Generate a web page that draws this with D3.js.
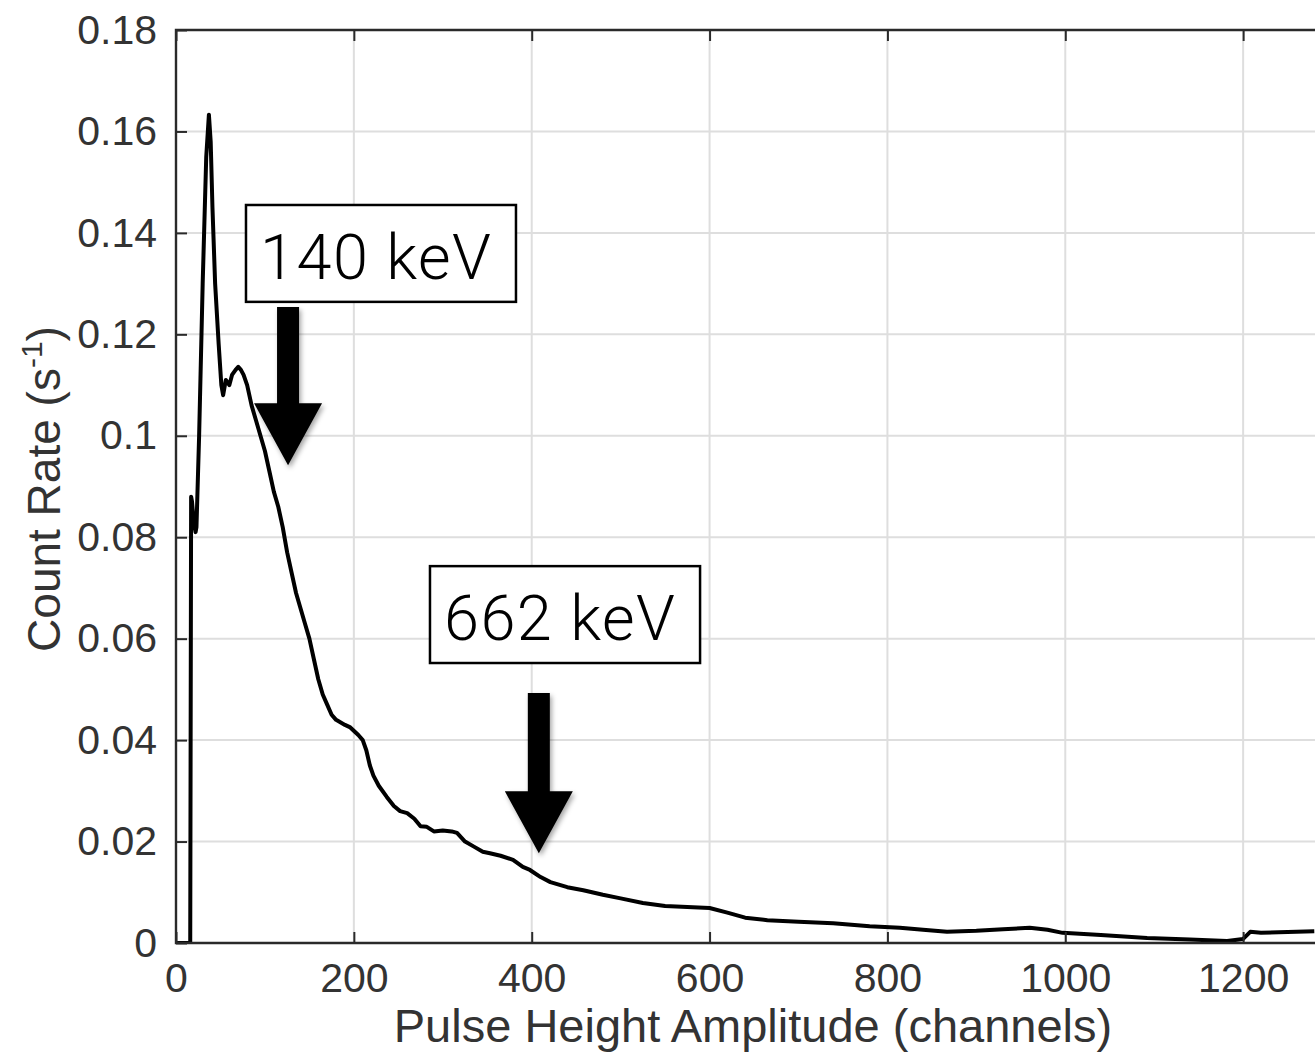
<html>
  <head>
    <title>Pulse height spectrum</title>
    <meta charset="utf-8" />
    <script src="https://cdnjs.cloudflare.com/ajax/libs/d3/7.6.1/d3.min.js"></script>
    <style>
      body { margin: 0; background: #fff; }
      svg { width: 1315px; height: 1054px; display: block; }
      .tick text { font-family: "Liberation Sans", Arial, sans-serif; font-size: 41px; fill: #333; }
      .tick line { stroke: #2a2a2a; stroke-width: 2; }
    </style>
  </head>
  <body>
    <svg></svg>
  </body>

  <script>
    // spectrum (channel, count rate in 1/s)
    const channels = [0, 16, 17, 18, 20, 22, 23, 26, 30, 34, 37, 39, 41, 44, 48, 51, 53, 56, 60, 63, 67, 70, 73, 76, 80,
      85, 90, 95, 100, 105, 110, 115, 120, 125, 130, 135, 140, 145, 150, 155, 160, 165, 170, 175, 180, 190, 196,
      205, 210, 214, 218, 222, 228, 237, 245, 252, 260, 268, 275, 282, 290, 300, 310, 316, 325, 335, 345, 353,
      365, 379, 390, 398, 410, 421, 440, 458, 480, 500, 525, 550, 575, 600, 620, 640, 665, 700, 739, 780, 814,
      840, 867, 900, 930, 960, 980, 997, 1040, 1092, 1140, 1182, 1200, 1208, 1220, 1240, 1260, 1280];
    const rates = [0, 0, 0.088, 0.087, 0.083, 0.081, 0.082, 0.1, 0.13, 0.155, 0.1633, 0.158, 0.145, 0.13, 0.118, 0.11,
      0.108, 0.111, 0.11, 0.112, 0.113, 0.1136, 0.113, 0.112, 0.11,
      0.106, 0.103, 0.1, 0.097, 0.093, 0.089, 0.086, 0.082, 0.077, 0.073, 0.069, 0.066, 0.063, 0.06, 0.056, 0.052,
      0.049, 0.047, 0.045, 0.044, 0.043, 0.0425,
      0.041, 0.04, 0.038, 0.035, 0.033, 0.031, 0.0288, 0.027, 0.026, 0.0256, 0.0245, 0.023, 0.0229, 0.022, 0.0222,
      0.022, 0.0217, 0.02, 0.019, 0.018, 0.0177,
      0.0172, 0.0164, 0.015, 0.0144, 0.013, 0.012, 0.011, 0.0104, 0.0095, 0.0088, 0.0079, 0.0073, 0.0071, 0.0069,
      0.006, 0.005, 0.0045, 0.0042, 0.0039, 0.0033, 0.003,
      0.0026, 0.0022, 0.0024, 0.0027, 0.003, 0.0026, 0.002, 0.0016, 0.001, 0.0007, 0.0004, 0.0008, 0.0022, 0.002,
      0.0021, 0.0022, 0.0023];

    const xTickValues = [0, 200, 400, 600, 800, 1000, 1200];
    const xTickLabels = ["0", "200", "400", "600", "800", "1000", "1200"];
    const yTickValues = [0, 0.02, 0.04, 0.06, 0.08, 0.1, 0.12, 0.14, 0.16, 0.18];
    const yTickLabels = ["0", "0.02", "0.04", "0.06", "0.08", "0.1", "0.12", "0.14", "0.16", "0.18"];

    // peak markers: box corners and arrow (tail -> tip), in data units
    const markerLabels = ["140 keV", "662 keV"];
    const markerBoxes = [[78.7, 382.3, 0.1455, 0.1264], [285.6, 589.3, 0.0743, 0.0552]];
    const markerArrows = [[126, 0.1254, 0.0942], [408, 0.0493, 0.0177]];

    const svg = d3.select("svg");
    const x = d3.scaleLinear().domain([0, 1400]).range([176, 1421]);
    const y = d3.scaleLinear().domain([0, 0.18]).range([943, 30]);

    const defs = svg.append("defs");
    defs.append("clipPath").attr("id", "plot")
      .append("rect").attr("x", 176).attr("y", 30).attr("width", 1245).attr("height", 913);
    defs.append("filter").attr("id", "shadow").attr("x", "-30%").attr("y", "-30%")
      .attr("width", "160%").attr("height", "160%")
      .append("feDropShadow").attr("dx", 2).attr("dy", 3).attr("stdDeviation", 2.5)
      .attr("flood-color", "#000").attr("flood-opacity", 0.35);

    // grid
    const grid = svg.append("g").attr("stroke", "#dedede").attr("stroke-width", 2);
    grid.selectAll(".gx").data(xTickValues.slice(1)).join("line")
      .attr("x1", (d) => x(d)).attr("x2", (d) => x(d)).attr("y1", y(0.18)).attr("y2", y(0));
    grid.selectAll(".gy").data(yTickValues.slice(1)).join("line")
      .attr("x1", x(0)).attr("x2", x(1400)).attr("y1", (d) => y(d)).attr("y2", (d) => y(d));

    // spectrum
    const points = channels.map((c, i) => [c, rates[i]]);
    svg.append("path")
      .attr("clip-path", "url(#plot)")
      .attr("d", d3.line().x((d) => x(d[0])).y((d) => y(d[1]))(points))
      .attr("fill", "none")
      .attr("stroke", "#000")
      .attr("stroke-width", 4)
      .attr("stroke-linejoin", "round");

    // axes
    const xAxis = d3.axisBottom(x).tickValues(xTickValues)
      .tickFormat((d, i) => xTickLabels[i]).tickSizeInner(-11).tickSizeOuter(0).tickPadding(20);
    svg.append("g").attr("transform", `translate(0,${y(0)})`).call(xAxis)
      .call((g) => g.select(".domain").remove());

    const xAxisTop = d3.axisTop(x).tickValues(xTickValues).tickFormat("")
      .tickSizeInner(-11).tickSizeOuter(0);
    svg.append("g").attr("transform", `translate(0,${y(0.18)})`).call(xAxisTop)
      .call((g) => g.select(".domain").remove());

    const yAxis = d3.axisLeft(y).tickValues(yTickValues)
      .tickFormat((d, i) => yTickLabels[i]).tickSizeInner(-11).tickSizeOuter(0).tickPadding(19);
    svg.append("g").attr("transform", `translate(${x(0)},0)`).call(yAxis)
      .call((g) => g.select(".domain").remove());

    // box edges
    svg.append("path")
      .attr("d", `M${x(1400)},${y(0.18)}H${x(0)}V${y(0)}H${x(1400)}`)
      .attr("fill", "none").attr("stroke", "#2a2a2a").attr("stroke-width", 2.4);

    // axis titles
    svg.append("text")
      .attr("x", 753).attr("y", 1042)
      .attr("text-anchor", "middle")
      .style("font-family", "'Liberation Sans', Arial, sans-serif")
      .style("font-size", "47px").style("fill", "#333")
      .text("Pulse Height Amplitude (channels)");

    const yTitle = svg.append("text")
      .attr("transform", "translate(60,489) rotate(-90)")
      .attr("text-anchor", "middle")
      .style("font-family", "'Liberation Sans', Arial, sans-serif")
      .style("font-size", "46px").style("fill", "#333");
    yTitle.append("tspan").text("Count Rate (s");
    yTitle.append("tspan").attr("dy", -18).style("font-size", "30px").text("-1");
    yTitle.append("tspan").attr("dy", 18).text(")");

    // peak markers
    markerLabels.forEach((label, i) => {
      const [bx0, bx1, by0, by1] = markerBoxes[i];
      svg.append("rect")
        .attr("x", x(bx0)).attr("y", y(by0))
        .attr("width", x(bx1) - x(bx0)).attr("height", y(by1) - y(by0))
        .attr("fill", "#fff").attr("stroke", "#000").attr("stroke-width", 2.5);
      svg.append("text")
        .attr("x", x(bx0) + 14).attr("y", y(by1) - 23)
        .style("font-family", "Roboto, 'Open Sans', sans-serif")
        .style("font-weight", 300).style("font-size", "63px").style("fill", "#000")
        .style("letter-spacing", "1.5px")
        .text(label);

      const [ac, tail, tip] = markerArrows[i];
      const cx = x(ac), y0 = y(tail), y1 = y(tip);
      const headLen = 62, shaft = 11, head = 34;
      svg.append("path")
        .attr("d", `M${cx - shaft},${y0}H${cx + shaft}V${y1 - headLen}H${cx + head}L${cx},${y1}L${cx - head},${y1 - headLen}H${cx - shaft}Z`)
        .attr("fill", "#000")
        .attr("filter", "url(#shadow)");
    });
  </script>
</html>
